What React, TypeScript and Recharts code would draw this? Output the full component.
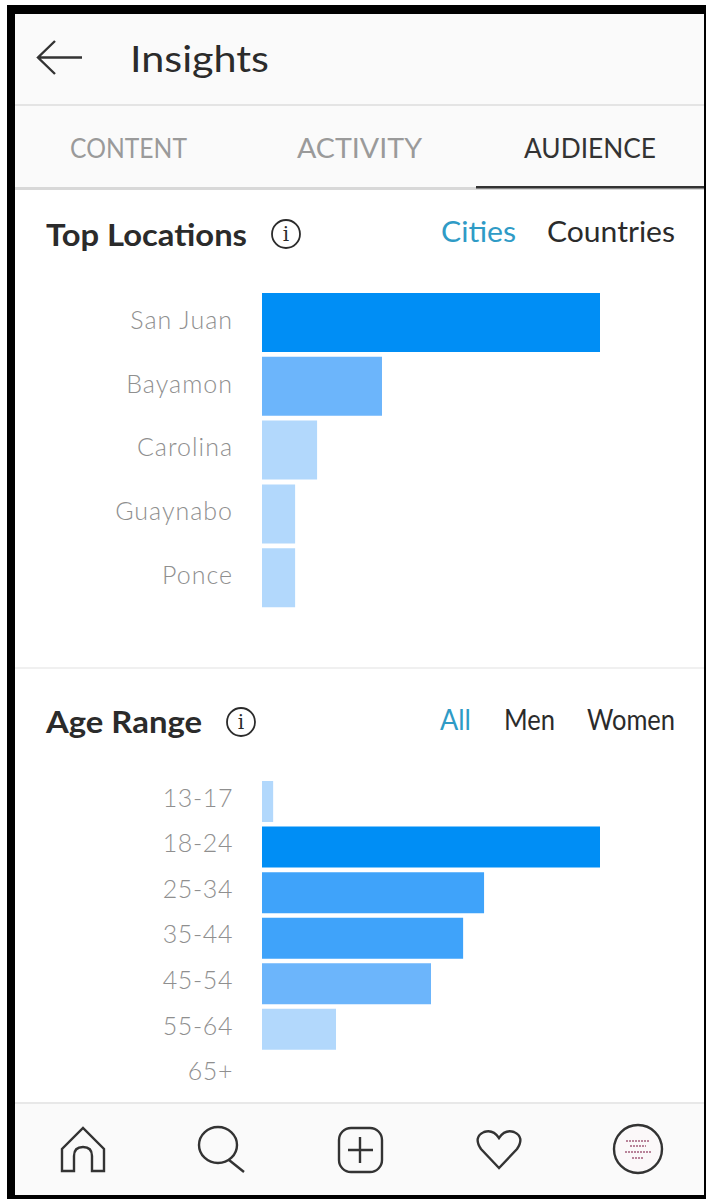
import { Bar, BarChart, Cell, XAxis, YAxis } from "recharts";

const cities = ["San Juan", "Bayamon", "Carolina", "Guaynabo", "Ponce"];
const cityShares = [100, 35.5, 16.3, 9.8, 9.8];

const ages = ["13-17", "18-24", "25-34", "35-44", "45-54", "55-64", "65+"];
const ageShares = [3.3, 100, 65.7, 59.5, 50, 21.9, 0];

const BLUE = "#008ef5";
const BLUE_2 = "#3fa3fa";
const BLUE_3 = "#6cb5fb";
const BLUE_4 = "#b2d8fc";

const cityColors = [BLUE, BLUE_3, BLUE_4, BLUE_4, BLUE_4];
const ageColors = [BLUE_4, BLUE, BLUE_2, BLUE_2, BLUE_3, BLUE_4, BLUE_4];

const FONT = "Lato, 'Open Sans', sans-serif";
const INK = "#2b2b2b";

type Row = { name: string; share: number };

function toRows(names: string[], values: number[]): Row[] {
  return names.map((name, i) => ({ name, share: values[i] }));
}

function HBars({
  rows,
  colors,
  top,
  height,
  barSize,
  dy,
  spacing,
}: {
  rows: Row[];
  colors: string[];
  top: number;
  height: number;
  barSize: number;
  dy: number;
  spacing: number;
}) {
  return (
    <div style={{ position: "absolute", left: 20, top }}>
      <BarChart
        width={580}
        height={height}
        data={rows}
        layout="vertical"
        margin={{ top: 0, right: 0, bottom: 0, left: 0 }}
        barCategoryGap={0}
      >
        <XAxis type="number" domain={[0, 100]} hide />
        <YAxis
          type="category"
          dataKey="name"
          width={242}
          axisLine={false}
          tickLine={false}
          tickSize={0}
          tickMargin={29}
          interval={0}
          tick={{ fontSize: 25, fontWeight: 300, fill: "#8f8f8f", fontFamily: FONT, dy, letterSpacing: spacing }}
        />
        <Bar dataKey="share" barSize={barSize} isAnimationActive={false}>
          {rows.map((r, i) => (
            <Cell key={r.name} fill={colors[i]} />
          ))}
        </Bar>
      </BarChart>
    </div>
  );
}

function Label({
  x,
  y,
  w,
  size,
  fill = INK,
  weight = 400,
  children,
}: {
  x: number;
  y: number;
  w: number;
  size: number;
  fill?: string;
  weight?: number;
  children: string;
}) {
  return (
    <text
      x={x}
      y={y}
      fontSize={size}
      fontFamily={FONT}
      fontWeight={weight}
      fill={fill}
      textLength={w}
      lengthAdjust="spacingAndGlyphs"
    >
      {children}
    </text>
  );
}

function InfoIcon({ cx, cy }: { cx: number; cy: number }) {
  return (
    <g>
      <circle cx={cx} cy={cy} r={14} fill="none" stroke={INK} strokeWidth={1.8} />
      <text x={cx} y={cy + 7} fontSize={20} fontFamily="DejaVu Serif" textAnchor="middle" fill={INK}>
        i
      </text>
    </g>
  );
}

function Chrome() {
  return (
    <svg width={708} height={1199} style={{ position: "absolute", left: 0, top: 0 }}>
      {/* top bars */}
      <rect x={14} y={14} width={690} height={174} fill="#fafafa" />
      <rect x={14} y={104} width={690} height={2} fill="#e4e4e4" />
      <rect x={14} y={187} width={690} height={3} fill="#d8d8d8" />
      <rect x={476} y={186} width={228} height={2.5} fill="#333" />

      <path d="M82 57.5H39M55 41L38 57.5L55 74" fill="none" stroke="#333" strokeWidth={2.4} />
      <Label x={130} y={72} w={139} size={36}>Insights</Label>

      <Label x={70} y={158} w={117} size={27} fill="#9a9a9a">CONTENT</Label>
      <Label x={297} y={158} w={125} size={27} fill="#9a9a9a">ACTIVITY</Label>
      <Label x={524} y={158} w={132} size={27} fill="#333">AUDIENCE</Label>

      <Label x={46} y={246} w={201} size={31} weight={700}>Top Locations</Label>
      <InfoIcon cx={286} cy={234} />
      <Label x={441} y={242} w={75} size={28} fill="#2f9bc6">Cities</Label>
      <Label x={547} y={242} w={128} size={28}>Countries</Label>

      <rect x={14} y={667} width={690} height={2} fill="#f0f0f0" />

      <Label x={46} y={733} w={156} size={31} weight={700}>Age Range</Label>
      <InfoIcon cx={241} cy={722} />
      <Label x={440} y={730} w={31} size={28} fill="#2f9bc6">All</Label>
      <Label x={504} y={730} w={51} size={28}>Men</Label>
      <Label x={587} y={730} w={88} size={28}>Women</Label>

      {/* bottom nav */}
      <rect x={14} y={1102} width={690} height={93} fill="#fafafa" />
      <rect x={14} y={1102} width={690} height={2} fill="#e8e8e8" />
      <g fill="none" stroke="#333" strokeWidth={2.4}>
        <path d="M62 1171V1149L83 1128L104 1149V1171H92V1156Q92 1147 83 1147Q74 1147 74 1156V1171Z" />
        <ellipse cx={218} cy={1145} rx={19} ry={18} />
        <path d="M229 1160L244 1172" />
        <rect x={339} y={1128} width={43} height={44} rx={12} />
        <path d="M360 1137V1163M348 1150H373" />
        <path d="M499 1168L481 1149Q473 1137 484 1132Q493 1129 499 1138Q505 1129 514 1132Q525 1137 517 1149Z" />
        <circle cx={638} cy={1149} r={24} />
      </g>
      <circle cx={638} cy={1149} r={22} fill="#fbf8f9" />
      <g stroke="#b9849a" strokeWidth={2} strokeDasharray="2 1">
        <path d="M626 1141H650M630 1146H646M625 1152H651M632 1158H644" />
      </g>

      {/* frame */}
      <rect x={7} y={5} width={8} height={1194} fill="#000" />
      <rect x={7} y={5} width={699} height={9} fill="#000" />
      <rect x={704} y={5} width={2} height={1194} fill="#000" />
      <rect x={7} y={1195} width={699} height={4} fill="#000" />
    </svg>
  );
}

export default function App() {
  return (
    <div style={{ position: "absolute", left: 0, top: 0, width: 708, height: 1199, background: "#fff", overflow: "hidden" }}>
      <Chrome />
      <HBars rows={toRows(cities, cityShares)} colors={cityColors} top={291} height={319} barSize={59} dy={-3} spacing={1} />
      <HBars rows={toRows(ages, ageShares)} colors={ageColors} top={779} height={319} barSize={41} dy={-4} spacing={0.6} />
    </div>
  );
}
